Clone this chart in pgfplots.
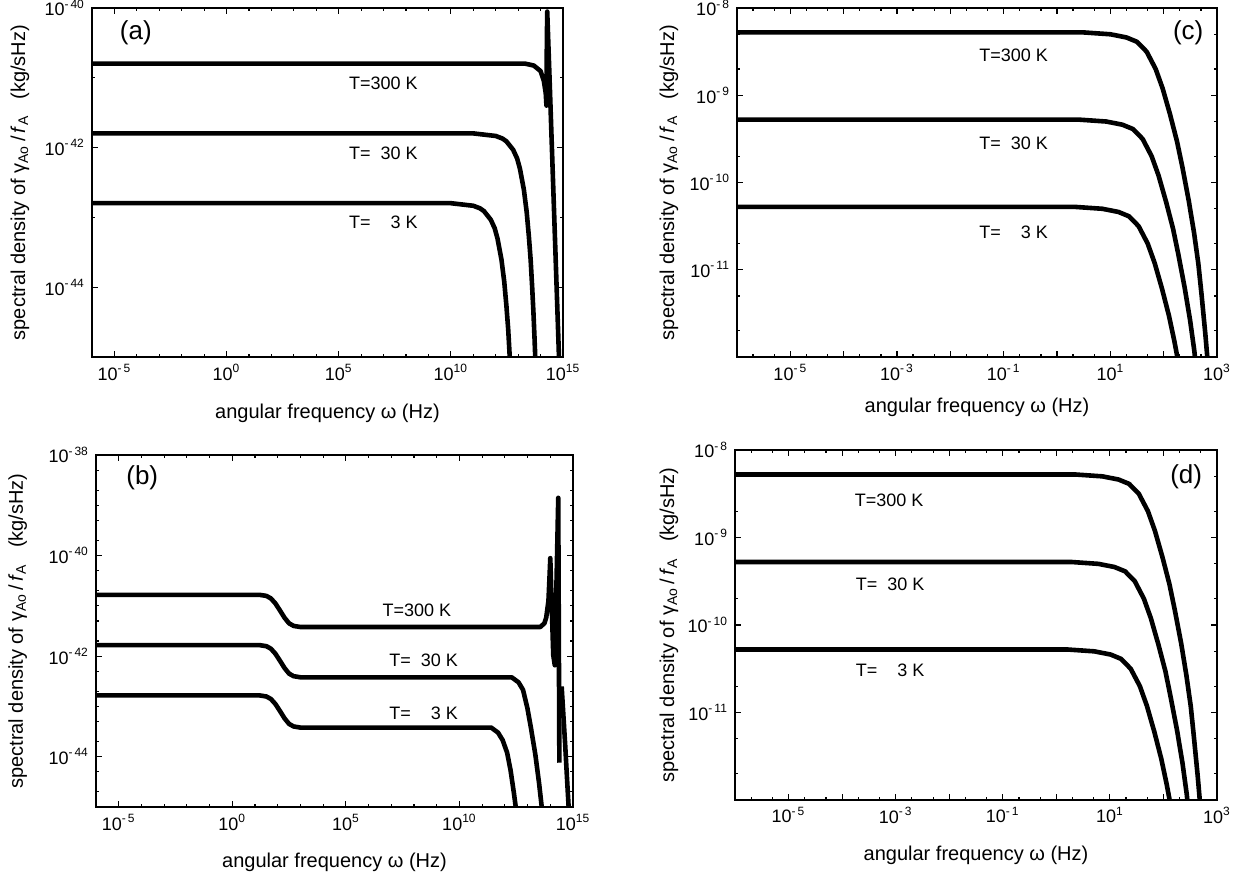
\documentclass[border=0pt]{standalone}
\usepackage{fontspec}
\setmainfont{Liberation Sans}
\usepackage{pgfplots}
\pgfplotsset{compat=1.18}

\newcommand{\pw}[1]{10\textsuperscript{#1}}

\tikzset{
  tlab/.style={anchor=west, font=\fontsize{9}{10}\selectfont},
  plab/.style={font=\fontsize{13}{14}\selectfont},
  curve/.style={black, line width=2.3pt, line join=round},
}
\pgfplotsset{
  gpanel/.style={
    scale only axis,
    axis line style={line width=0.9pt}, tick style={black, line width=0.6pt},
    tick align=inside, major tick length=3pt, minor tick length=1.6pt,
    ticklabel style={font=\fontsize{9}{10}\selectfont},
    label style={font=\fontsize{10}{12}\selectfont},
    xlabel={angular frequency ω (Hz)},
    ylabel={spectral density of γ\textsubscript{Ao}\,/\,\textit{f}\textsubscript{A}\hspace{0.8em}(kg/sHz)},
  },
  gwide/.style={
    xmin=1e-6, xmax=1e15,
    xtick={1e-5,1,1e5,1e10,1e15},
    xticklabels={\pw{-\,5},\pw{0},\pw{5},\pw{10},\pw{15}},
    minor xtick={1e-6,1e-4,1e-3,1e-2,1e-1,1e1,1e2,1e3,1e4,1e6,1e7,1e8,1e9,1e11,1e12,1e13,1e14},
  },
  gnarrow/.style={
    xmin=1e-6, xmax=1e3, ymin=1e-12, ymax=1e-8,
    xtick={1e-6,1e-5,1e-4,1e-3,1e-2,1e-1,1,1e1,1e2,1e3},
    xticklabels={,\pw{-\,5},,\pw{-\,3},,\pw{-\,1},,\pw{1},,\pw{3}},
    minor xtick={2e-6,5e-6,2e-5,5e-5,2e-4,5e-4,2e-3,5e-3,2e-2,5e-2,2e-1,5e-1,2,5,2e1,5e1,2e2,5e2},
    ytick={1e-12,1e-11,1e-10,1e-9,1e-8},
    yticklabels={,\pw{-\,11},\pw{-\,10},\pw{-\,9},\pw{-\,8}},
    minor ytick={2e-12,5e-12,2e-11,5e-11,2e-10,5e-10,2e-9,5e-9},
  },
}

\begin{document}
\begin{tikzpicture}
\path[use as bounding box] (0,0) rectangle (618pt,-438.5pt);

% (a)
\begin{loglogaxis}[gpanel, gwide, at={(46pt,-4pt)}, anchor=north west,
  width=235.5pt, height=174.5pt,
  ymin=1e-45, ymax=1e-40,
  ytick={1e-44,1e-42,1e-40}, yticklabels={\pw{-\,44},\pw{-\,42},\pw{-\,40}},
  minor ytick={1e-45,1e-43,1e-41},
  xlabel style={at={(axis description cs:0.5,-0.16)}, anchor=center},
  ylabel style={at={(axis description cs:-0.153,0.5)}, anchor=center}]
\addplot[curve] coordinates {(1e-6,1.6e-43) (1e10,1.6e-43) (1e11,1.47e-43) (2e11,1.35e-43) (3e11,1.23e-43) (6e11,9.3e-44) (9e11,7.0e-44) (1.2e12,5.0e-44) (1.8e12,2.5e-44) (2.4e12,1.2e-44) (3e12,5.4e-45) (3.6e12,2.5e-45) (4.2e12,1.03e-45) (4.8e12,4.4e-46)};
\addplot[curve] coordinates {(1e-6,1.6e-42) (1e11,1.6e-42) (1e12,1.47e-42) (2e12,1.35e-42) (3e12,1.23e-42) (6e12,9.3e-43) (9e12,7.0e-43) (1.2e13,5.0e-43) (1.8e13,2.5e-43) (2.4e13,1.2e-43) (3e13,5.4e-44) (3.6e13,2.5e-44) (4.2e13,1.03e-44) (4.8e13,4.4e-45) (5.4e13,1.8e-45) (6e13,7.3e-46)};
\addplot[curve] coordinates {(1e-6,1.6e-41) (2e13,1.6e-41) (5e13,1.5e-41) (1e14,1.25e-41) (1.4e14,9e-42) (1.7e14,6e-42) (1.83e14,4e-42) (1.9e14,3e-41) (1.98e14,8.9e-41) (2.51e14,1e-41) (3.16e14,1.12e-42) (3.98e14,1.26e-43) (5.01e14,1.41e-44) (6.31e14,1.58e-45) (7.08e14,5e-46)};
\node[tlab] at (rel axis cs:0.531,0.785) {T=300 K};
\node[tlab] at (rel axis cs:0.531,0.585) {T=\phantom{3}30 K};
\node[tlab] at (rel axis cs:0.531,0.387) {T=\phantom{33}3 K};
\node[plab] at (rel axis cs:0.093,0.928) {(a)};
\end{loglogaxis}

% (c)
\begin{loglogaxis}[gpanel, gnarrow, at={(368.5pt,-4pt)}, anchor=north west,
  width=240pt, height=174.5pt,
  xlabel style={at={(axis description cs:0.5,-0.143)}, anchor=center},
  ylabel style={at={(axis description cs:-0.142,0.5)}, anchor=center}]
\addplot[curve] coordinates {(1e-6,5.25e-11) (2.24,5.25e-11) (7.08,5.0e-11) (14.2,4.6e-11) (22.4,4.1e-11) (33.9,3.16e-11) (50.1,2.0e-11) (67.6,1.2e-11) (93.5,6.0e-12) (126,2.95e-12) (159,1.51e-12) (209,6.2e-13)};
\addplot[curve] coordinates {(1e-6,5.25e-10) (2.66,5.25e-10) (8.41,5.0e-10) (16.8,4.6e-10) (26.6,4.1e-10) (40.3,3.16e-10) (59.5,2.0e-10) (80.3,1.2e-10) (111,6.0e-11) (150,2.95e-11) (188,1.51e-11) (248,6.2e-12) (313,2.63e-12) (376,1.17e-12) (431,5.2e-13)};
\addplot[curve] coordinates {(1e-6,5.25e-9) (3.16,5.25e-9) (10,5.0e-9) (20,4.6e-9) (31.6,4.1e-9) (47.9,3.16e-9) (70.8,2.0e-9) (95.5,1.2e-9) (132,6.0e-10) (178,2.95e-10) (224,1.51e-10) (295,6.2e-11) (372,2.63e-11) (447,1.17e-11) (513,5.2e-12) (603,1.86e-12) (708,5.9e-13)};
\node[tlab] at (rel axis cs:0.49,0.865) {T=300 K};
\node[tlab] at (rel axis cs:0.49,0.613) {T=\phantom{3}30 K};
\node[tlab] at (rel axis cs:0.49,0.358) {T=\phantom{33}3 K};
\node[plab] at (rel axis cs:0.94,0.93) {(c)};
\end{loglogaxis}

% (b)
\begin{loglogaxis}[gpanel, gwide, at={(48pt,-227.5pt)}, anchor=north west,
  width=238.5pt, height=176pt,
  ymin=1e-45, ymax=1e-38,
  ytick={1e-44,1e-42,1e-40,1e-38}, yticklabels={\pw{-\,44},\pw{-\,42},\pw{-\,40},\pw{-\,38}},
  minor ytick={1e-45,1e-43,1e-41,1e-39,2e-45,5e-45,2e-44,5e-44,2e-43,5e-43,2e-42,5e-42,2e-41,5e-41,2e-40,5e-40,2e-39,5e-39},
  xlabel style={at={(axis description cs:0.5,-0.156)}, anchor=center},
  ylabel style={at={(axis description cs:-0.164,0.5)}, anchor=center}]
\addplot[curve] coordinates {(1e-6,1.66e-43) (15.8,1.66e-43) (31.6,1.58e-43) (50,1.41e-43) (79,1.12e-43) (126,8.1e-44) (200,5.8e-44) (316,4.5e-44) (501,4.0e-44) (1000,3.8e-44) (2.5e11,3.8e-44) (5e11,3.02e-44) (8e11,2.14e-44) (1.26e12,1.2e-44) (1.78e12,5.4e-45) (2.5e12,1.9e-45) (3.5e12,6.0e-46)};
\addplot[curve] coordinates {(1e-6,1.66e-42) (15.8,1.66e-42) (31.6,1.58e-42) (50,1.41e-42) (79,1.12e-42) (126,8.1e-43) (200,5.8e-43) (316,4.5e-43) (501,4.0e-43) (1000,3.8e-43) (2e12,3.8e-43) (4e12,3.02e-43) (6.3e12,2.14e-43) (9.8e12,9.3e-44) (1.4e13,3.8e-44) (2.2e13,1.1e-44) (3.2e13,3.0e-45) (4.5e13,7.6e-46)};
\addplot[curve] coordinates {(1e-6,1.66e-41) (15.8,1.66e-41) (31.6,1.58e-41) (50,1.41e-41) (79,1.12e-41) (126,8.1e-42) (200,5.8e-42) (316,4.5e-42) (501,4.0e-42) (1000,3.8e-42) (3.6e13,3.8e-42) (5.5e13,4.5e-42) (6.6e13,5.8e-42) (8.3e13,1.26e-41) (9.3e13,4e-41) (1e14,8.9e-41) (1.35e14,1.05e-42) (1.58e14,6.6e-43) (2.24e14,1.41e-39) (2.51e14,7.6e-45)};
\addplot[curve] coordinates {(3.16e14,2.5e-43) (3.8e14,6.3e-44) (4.5e14,1.8e-44) (5.4e14,4e-45) (6.6e14,8e-46)};
\node[tlab] at (rel axis cs:0.586,0.56) {T=300 K};
\node[tlab] at (rel axis cs:0.60,0.418) {T=\phantom{3}30 K};
\node[tlab] at (rel axis cs:0.60,0.267) {T=\phantom{33}3 K};
\node[plab] at (rel axis cs:0.097,0.934) {(b)};
\end{loglogaxis}

% (d)
\begin{loglogaxis}[gpanel, gnarrow, at={(367.5pt,-225pt)}, anchor=north west,
  width=241pt, height=175pt,
  xlabel style={at={(axis description cs:0.5,-0.157)}, anchor=center},
  ylabel style={at={(axis description cs:-0.137,0.5)}, anchor=center}]
\addplot[curve] coordinates {(1e-6,5.25e-11) (1.62,5.25e-11) (5.13,5.0e-11) (10.3,4.6e-11) (16.2,4.1e-11) (24.5,3.16e-11) (36.3,2.0e-11) (48.9,1.2e-11) (67.7,6.0e-12) (91.2,2.95e-12) (115,1.51e-12) (151,6.2e-13)};
\addplot[curve] coordinates {(1e-6,5.25e-10) (1.93,5.25e-10) (6.09,5.0e-10) (12.2,4.6e-10) (19.3,4.1e-10) (29.2,3.16e-10) (43.1,2.0e-10) (58.1,1.2e-10) (80.4,6.0e-11) (109,2.95e-11) (136,1.51e-11) (180,6.2e-12) (227,2.63e-12) (272,1.17e-12) (312,5.2e-13)};
\addplot[curve] coordinates {(1e-6,5.25e-9) (2.29,5.25e-9) (7.24,5.0e-9) (14.5,4.6e-9) (22.9,4.1e-9) (34.7,3.16e-9) (51.3,2.0e-9) (69.1,1.2e-9) (95.6,6.0e-10) (129,2.95e-10) (162,1.51e-10) (214,6.2e-11) (269,2.63e-11) (324,1.17e-11) (371,5.2e-12) (437,1.86e-12) (513,5.9e-13)};
\node[tlab] at (rel axis cs:0.234,0.857) {T=300 K};
\node[tlab] at (rel axis cs:0.236,0.617) {T=\phantom{3}30 K};
\node[tlab] at (rel axis cs:0.236,0.371) {T=\phantom{33}3 K};
\node[plab] at (rel axis cs:0.936,0.923) {(d)};
\end{loglogaxis}
\end{tikzpicture}
\end{document}
